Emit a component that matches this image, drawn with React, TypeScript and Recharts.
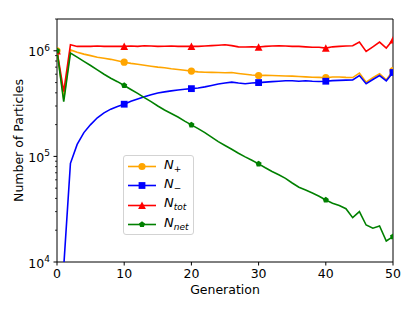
import React from 'react';
import { LineChart, Line, XAxis, YAxis, ReferenceArea, Legend } from 'recharts';

document.body.style.margin = '0';

const FONT = '"DejaVu Sans", sans-serif';

// generation index (x axis)
const generations = [
  0, 1, 2, 3, 4, 5, 6, 7, 8, 9, 10, 11, 12, 13, 14, 15, 16, 17, 18, 19, 20,
  21, 22, 23, 24, 25, 26, 27, 28, 29, 30, 31, 32, 33, 34, 35, 36, 37, 38, 39, 40,
  41, 42, 43, 44, 45, 46, 47, 48, 49, 50,
];

const nPlus = [
  1.0e6, 3.5e5, 1.02e6, 9.7e5, 9.3e5, 9.0e5, 8.7e5, 8.5e5, 8.3e5, 8.05e5, 7.8e5,
  7.6e5, 7.45e5, 7.3e5, 7.15e5, 7.0e5, 6.9e5, 6.75e5, 6.65e5, 6.55e5, 6.42e5,
  6.32e5, 6.27e5, 6.24e5, 6.22e5, 6.2e5, 6.22e5, 6.1e5, 6.0e5, 5.9e5, 5.83e5,
  5.85e5, 5.83e5, 5.8e5, 5.78e5, 5.75e5, 5.7e5, 5.66e5, 5.62e5, 5.6e5, 5.56e5,
  5.65e5, 5.65e5, 5.6e5, 5.58e5, 6.15e5, 5.05e5, 5.55e5, 6.05e5, 5.3e5, 6.5e5,
];

const nMinus = [
  null, 9.0e3, 8.6e4, 1.3e5, 1.68e5, 2.0e5, 2.32e5, 2.58e5, 2.8e5, 2.97e5, 3.12e5,
  3.32e5, 3.5e5, 3.67e5, 3.83e5, 3.98e5, 4.08e5, 4.17e5, 4.25e5, 4.32e5, 4.38e5,
  4.45e5, 4.55e5, 4.7e5, 4.85e5, 4.95e5, 5.05e5, 4.95e5, 4.88e5, 4.95e5, 5.0e5,
  5.05e5, 5.1e5, 5.15e5, 5.2e5, 5.2e5, 5.15e5, 5.2e5, 5.15e5, 5.12e5, 5.15e5,
  5.22e5, 5.25e5, 5.28e5, 5.3e5, 5.83e5, 4.87e5, 5.35e5, 5.83e5, 5.2e5, 6.23e5,
];

const nTot = [
  1.0e6, 4.1e5, 1.14e6, 1.1e6, 1.1e6, 1.1e6, 1.11e6, 1.1e6, 1.1e6, 1.1e6, 1.1e6,
  1.11e6, 1.1e6, 1.115e6, 1.11e6, 1.1e6, 1.105e6, 1.11e6, 1.1e6, 1.1e6, 1.1e6,
  1.1e6, 1.11e6, 1.12e6, 1.13e6, 1.14e6, 1.12e6, 1.09e6, 1.085e6, 1.09e6, 1.085e6,
  1.1e6, 1.11e6, 1.115e6, 1.11e6, 1.1e6, 1.1e6, 1.09e6, 1.08e6, 1.08e6, 1.06e6,
  1.09e6, 1.1e6, 1.11e6, 1.115e6, 1.21e6, 9.85e5, 1.09e6, 1.21e6, 1.06e6, 1.27e6,
];

const nNet = [
  1.0e6, 3.3e5, 9.5e5, 8.7e5, 7.95e5, 7.25e5, 6.6e5, 6.0e5, 5.5e5, 5.1e5, 4.69e5,
  4.3e5, 3.95e5, 3.6e5, 3.3e5, 3.0e5, 2.75e5, 2.55e5, 2.36e5, 2.16e5, 1.99e5,
  1.83e5, 1.68e5, 1.52e5, 1.38e5, 1.27e5, 1.17e5, 1.07e5, 9.9e4, 9.2e4, 8.5e4,
  7.8e4, 7.2e4, 6.7e4, 6.2e4, 5.6e4, 5.1e4, 4.8e4, 4.5e4, 4.2e4, 3.87e4,
  3.6e4, 3.42e4, 3.2e4, 2.63e4, 3.0e4, 2.24e4, 2.09e4, 2.19e4, 1.58e4, 1.74e4,
];

const xTicks = [0, 10, 20, 30, 40, 50];
const yTicks = [
  1e4, 2e4, 3e4, 4e4, 5e4, 6e4, 7e4, 8e4, 9e4,
  1e5, 2e5, 3e5, 4e5, 5e5, 6e5, 7e5, 8e5, 9e5,
  1e6, 2e6,
];

const rows = generations.map((g, i) => ({
  gen: g,
  nPlus: nPlus[i],
  nMinus: nMinus[i],
  nTot: nTot[i],
  nNet: nNet[i],
}));

type Shape = 'circle' | 'square' | 'triangle' | 'pentagon';

const series: { key: string; color: string; shape: Shape; sub: string; subItalic: boolean }[] = [
  { key: 'nPlus', color: '#ffa500', shape: 'circle', sub: '+', subItalic: false },
  { key: 'nMinus', color: '#0000ff', shape: 'square', sub: '\u2212', subItalic: false },
  { key: 'nTot', color: '#ff0000', shape: 'triangle', sub: 'tot', subItalic: true },
  { key: 'nNet', color: '#008000', shape: 'pentagon', sub: 'net', subItalic: true },
];

const marker = (shape: Shape, cx: number, cy: number, color: string, key?: string) => {
  switch (shape) {
    case 'circle':
      return <circle key={key} cx={cx} cy={cy} r={3.6} fill={color} />;
    case 'square':
      return <rect key={key} x={cx - 3.4} y={cy - 3.4} width={6.8} height={6.8} fill={color} />;
    case 'triangle':
      return (
        <polygon
          key={key}
          points={`${cx},${cy - 3.9} ${cx - 3.9},${cy + 3.6} ${cx + 3.9},${cy + 3.6}`}
          fill={color}
        />
      );
    default: {
      const pts = [0, 1, 2, 3, 4]
        .map((k) => {
          const a = ((-90 + 72 * k) * Math.PI) / 180;
          return `${cx + 3.2 * Math.cos(a)},${cy + 3.2 * Math.sin(a)}`;
        })
        .join(' ');
      return <polygon key={key} points={pts} fill={color} />;
    }
  }
};

// markers only every 10th generation, like markevery=10
const makeDot = (shape: Shape, color: string) => (props: any) => {
  const { cx, cy, index } = props;
  if (index % 10 !== 0 || cx == null || cy == null || isNaN(cy)) {
    return <g key={`dot-${index}`} />;
  }
  return marker(shape, cx, cy, color, `dot-${index}`);
};

const renderXTick = (props: any) => {
  const { x, y, payload } = props;
  return (
    <g>
      <line x1={x} x2={x} y1={y} y2={y + 3.5} stroke="#000" strokeWidth={1} />
      <text x={x} y={y + 15.5} textAnchor="middle" fontSize={12.5} fontFamily={FONT} fill="#000">
        {payload.value}
      </text>
    </g>
  );
};

const renderYTick = (props: any) => {
  const { x, y, payload } = props;
  const exp = Math.log10(payload.value);
  const major = Math.abs(exp - Math.round(exp)) < 1e-6;
  return (
    <g>
      <line x1={x - (major ? 3.5 : 2)} x2={x} y1={y} y2={y} stroke="#000" strokeWidth={major ? 1 : 0.8} />
      {major && (
        <text x={x - 7} y={y + 5.5} textAnchor="end" fontSize={12.5} fontFamily={FONT} fill="#000">
          10
          <tspan dy={-5.5} fontSize={9}>
            {Math.round(exp)}
          </tspan>
        </text>
      )}
    </g>
  );
};

const renderLegend = () => (
  <div
    style={{
      border: '1px solid #d3d3d3',
      borderRadius: 3,
      background: 'rgba(255,255,255,0.85)',
      padding: '1px 4px 0 4px',
      fontFamily: FONT,
      width: 61,
    }}
  >
    {series.map((s) => (
      <div key={s.key} style={{ display: 'flex', alignItems: 'center', height: 19.3 }}>
        <svg width={28} height={19} style={{ display: 'block' }}>
          <line x1={0} x2={28} y1={9.5} y2={9.5} stroke={s.color} strokeWidth={1.6} />
          {marker(s.shape, 14, 9.5, s.color)}
        </svg>
        <span style={{ marginLeft: 8, fontSize: 13, fontStyle: 'italic', color: '#000', lineHeight: '13px' }}>
          N
          <sub style={{ fontSize: 9, fontStyle: s.subItalic ? 'italic' : 'normal', verticalAlign: -3 }}>{s.sub}</sub>
        </span>
      </div>
    ))}
  </div>
);

export default function App() {
  return (
    <div style={{ width: 415, height: 311, background: '#fff' }}>
      <LineChart width={415} height={311} data={rows} margin={{ top: 19, right: 22, bottom: 0, left: 0 }}>
        <XAxis
          dataKey="gen"
          type="number"
          domain={[0, 50]}
          allowDataOverflow
          ticks={xTicks}
          interval={0}
          height={49}
          axisLine={false}
          tickLine={false}
          tickSize={0}
          tickMargin={0}
          tick={renderXTick}
          label={(p: any) => {
            const vb = p.viewBox;
            return (
              <text x={vb.x + vb.width / 2} y={vb.y + 32} textAnchor="middle" fontSize={12.5} fontFamily={FONT} fill="#000">
                Generation
              </text>
            );
          }}
        />
        <YAxis
          type="number"
          scale="log"
          domain={[1e4, 2e6]}
          allowDataOverflow
          ticks={yTicks}
          interval={0}
          width={57}
          axisLine={false}
          tickLine={false}
          tickSize={0}
          tickMargin={0}
          tick={renderYTick}
          label={(p: any) => {
            const vb = p.viewBox;
            const cx = vb.x + 22.5;
            const cy = vb.y + vb.height / 2;
            return (
              <text
                x={cx}
                y={cy}
                transform={`rotate(-90 ${cx} ${cy})`}
                textAnchor="middle"
                fontSize={12.5}
                fontFamily={FONT}
                fill="#000"
              >
                Number of Particles
              </text>
            );
          }}
        />
        {series.map((s) => (
          <Line
            key={s.key}
            type="linear"
            dataKey={s.key}
            stroke={s.color}
            strokeWidth={1.6}
            dot={makeDot(s.shape, s.color)}
            activeDot={false}
            isAnimationActive={false}
          />
        ))}
        <ReferenceArea x1={0} x2={50} y1={1e4} y2={2e6} fill="none" stroke="#000" strokeWidth={1} />
        <Legend
          layout="vertical"
          align="center"
          verticalAlign="middle"
          content={renderLegend}
          wrapperStyle={{ left: 123, top: 155, width: 'auto', height: 'auto' }}
        />
      </LineChart>
    </div>
  );
}
